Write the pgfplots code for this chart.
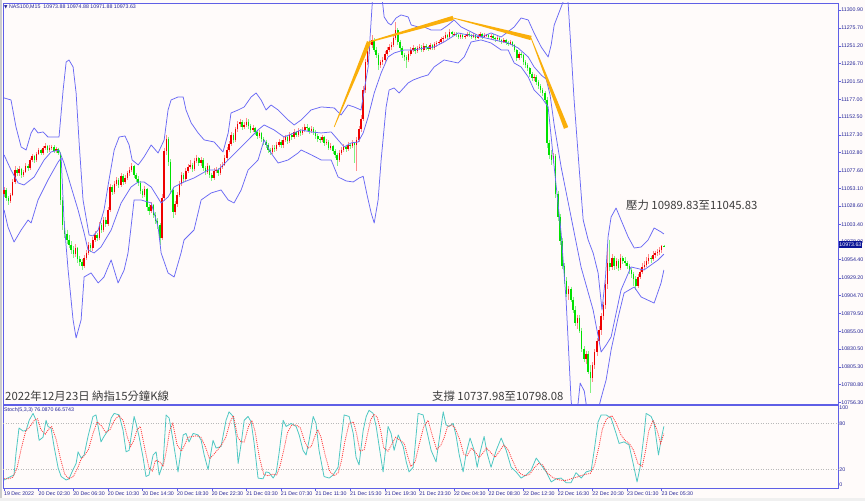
\documentclass[border=0pt]{standalone}
\usepackage{fontspec}
\setmainfont{Liberation Sans}
\newfontfamily\cjk{Noto Sans CJK TC}
\newfontfamily\dejavu{DejaVu Sans}
\usepackage{pgfplots}
\pgfplotsset{compat=1.18}
\usepackage{pgfplotstable}
\usetikzlibrary{calc}

\definecolor{bg}{RGB}{255,251,250}
\definecolor{frame}{RGB}{95,95,230}
\definecolor{tickc}{RGB}{35,35,150}
\definecolor{bandc}{RGB}{105,105,245}
\definecolor{upc}{RGB}{238,0,0}
\definecolor{dnc}{RGB}{0,225,0}
\definecolor{upw}{RGB}{255,140,140}
\definecolor{dnw}{RGB}{130,240,130}
\definecolor{stochc}{RGB}{80,200,195}
\definecolor{sigc}{RGB}{255,60,60}
\definecolor{orangec}{RGB}{250,175,10}
\definecolor{txt}{RGB}{60,60,60}
\definecolor{navy}{RGB}{10,20,150}

\newcommand\ticks{\fontsize{5.3}{6}\selectfont}
\newcommand\brush[4]{%
  \fill[orangec] ($(#1)!#3!90:(#2)$) -- ($(#2)!#4!-90:(#1)$) --
    ($(#2)!#4!90:(#1)$) -- ($(#1)!#3!-90:(#2)$) -- cycle;}

% NAS100 M15 candles: bar index, open, high, low, close
\pgfplotstableread{
i o h l c
0 11046 11055 11041 11051
1 11051 11054 11036 11040
2 11040 11043 11030 11036
3 11036 11047 11033 11044
4 11044 11066 11042 11062
5 11062 11084 11060 11079
6 11079 11082 11070 11074
7 11074 11084 11071 11080
8 11080 11082 11068 11072
9 11072 11079 11069 11076
10 11076 11088 11074 11085
11 11085 11087 11078 11081
12 11081 11096 11079 11093
13 11093 11101 11090 11098
14 11098 11100 11089 11092
15 11092 11104 11090 11101
16 11101 11110 11099 11106
17 11106 11108 11099 11102
18 11102 11112 11100 11109
19 11109 11116 11107 11112
20 11112 11114 11103 11106
21 11106 11113 11104 11110
22 11110 11114 11107 11111
23 11111 11113 11102 11105
24 11105 11111 11103 11108
25 11108 11110 11099 11102
26 11102 11104 11030 11037
27 11037 11041 10996 11002
28 11002 11008 10985 10990
29 10990 10996 10976 10982
30 10982 10988 10970 10975
31 10975 10980 10962 10968
32 10968 10973 10956 10962
33 10962 10976 10958 10970
34 10970 10972 10950 10955
35 10955 10960 10945 10951
36 10951 10955 10940 10946
37 10946 10961 10943 10957
38 10957 10968 10954 10964
39 10964 10979 10961 10975
40 10975 10977 10965 10970
41 10970 10986 10967 10982
42 10982 10994 10979 10989
43 10989 10992 10980 10984
44 10984 11006 10981 11002
45 11002 11005 10992 10996
46 10996 11014 10993 11010
47 11010 11013 11000 11004
48 11004 11027 11001 11023
49 11023 11060 11020 11055
50 11055 11058 11044 11048
51 11048 11064 11045 11060
52 11060 11069 11056 11065
53 11065 11068 11054 11058
54 11058 11074 11055 11070
55 11070 11073 11058 11062
56 11062 11072 11059 11068
57 11068 11078 11065 11074
58 11074 11083 11071 11079
59 11079 11088 11076 11084
60 11084 11086 11068 11072
61 11072 11075 11062 11066
62 11066 11070 11057 11061
63 11061 11064 11046 11050
64 11050 11053 11040 11044
65 11044 11057 11041 11052
66 11052 11054 11022 11027
67 11027 11031 11017 11022
68 11022 11034 11019 11030
69 11030 11032 11012 11016
70 11016 11020 11004 11008
71 11008 11012 10997 11002
72 11002 11005 10975 10985
73 10985 11045 10982 11040
74 11040 11110 11036 11105
75 11105 11128 11100 11122
76 11122 11125 11085 11090
77 11090 11094 11045 11051
78 11051 11055 11012 11020
79 11020 11036 11016 11032
80 11032 11048 11028 11044
81 11044 11064 11041 11060
82 11060 11076 11057 11072
83 11072 11075 11062 11066
84 11066 11082 11063 11078
85 11078 11087 11075 11083
86 11083 11092 11080 11086
87 11086 11089 11076 11080
88 11080 11096 11077 11091
89 11091 11100 11088 11095
90 11095 11097 11084 11088
91 11088 11097 11085 11093
92 11093 11095 11078 11082
93 11082 11085 11072 11076
94 11076 11088 11073 11084
95 11084 11086 11068 11072
96 11072 11075 11064 11068
97 11068 11081 11065 11077
98 11077 11083 11074 11079
99 11079 11081 11070 11074
100 11074 11087 11072 11083
101 11083 11090 11080 11086
102 11086 11100 11084 11096
103 11096 11111 11093 11107
104 11107 11119 11104 11115
105 11115 11131 11112 11127
106 11127 11130 11116 11120
107 11120 11139 11117 11135
108 11135 11147 11132 11142
109 11142 11150 11139 11145
110 11145 11148 11134 11138
111 11138 11145 11135 11141
112 11141 11151 11138 11146
113 11146 11149 11136 11140
114 11140 11143 11130 11134
115 11134 11141 11131 11137
116 11137 11139 11127 11131
117 11131 11134 11122 11126
118 11126 11134 11123 11130
119 11130 11132 11118 11122
120 11122 11125 11114 11118
121 11118 11121 11109 11113
122 11113 11116 11103 11107
123 11107 11110 11100 11104
124 11104 11114 11101 11110
125 11110 11113 11104 11108
126 11108 11118 11105 11114
127 11114 11122 11111 11118
128 11118 11120 11109 11113
129 11113 11124 11110 11120
130 11120 11128 11117 11124
131 11124 11126 11115 11119
132 11119 11131 11116 11127
133 11127 11130 11121 11125
134 11125 11135 11122 11131
135 11131 11133 11124 11128
136 11128 11137 11125 11133
137 11133 11135 11126 11130
138 11130 11138 11127 11134
139 11134 11143 11131 11139
140 11139 11142 11133 11137
141 11137 11139 11129 11133
142 11133 11140 11130 11136
143 11136 11138 11128 11132
144 11132 11134 11122 11126
145 11126 11129 11118 11122
146 11122 11125 11116 11120
147 11120 11128 11117 11124
148 11124 11126 11112 11116
149 11116 11122 11113 11118
150 11118 11120 11106 11110
151 11110 11116 11107 11112
152 11112 11114 11101 11105
153 11105 11108 11096 11100
154 11100 11103 11084 11093
155 11093 11106 11090 11102
156 11102 11111 11099 11107
157 11107 11115 11104 11111
158 11111 11114 11104 11108
159 11108 11118 11105 11114
160 11114 11116 11108 11112
161 11112 11120 11109 11116
162 11116 11118 11088 11113
163 11113 11124 11078 11120
164 11120 11140 11117 11135
165 11135 11155 11132 11150
166 11150 11195 11147 11190
167 11190 11233 11186 11228
168 11228 11250 11224 11244
169 11244 11258 11240 11252
170 11252 11266 11248 11259
171 11259 11262 11242 11246
172 11246 11250 11234 11238
173 11238 11241 11218 11224
174 11224 11232 11220 11228
175 11228 11236 11225 11231
176 11231 11244 11228 11240
177 11240 11249 11237 11245
178 11245 11254 11242 11250
179 11250 11256 11246 11252
180 11252 11266 11249 11262
181 11262 11284 11259 11273
182 11273 11276 11252 11256
183 11256 11259 11244 11248
184 11248 11251 11234 11238
185 11238 11241 11230 11235
186 11235 11238 11220 11231
187 11231 11244 11228 11240
188 11240 11249 11237 11245
189 11245 11252 11242 11248
190 11248 11250 11240 11244
191 11244 11251 11241 11248
192 11248 11254 11245 11250
193 11250 11252 11243 11246
194 11246 11255 11243 11251
195 11251 11253 11246 11249
196 11249 11251 11244 11247
197 11247 11255 11245 11252
198 11252 11254 11245 11248
199 11248 11256 11246 11253
200 11253 11258 11250 11255
201 11255 11259 11252 11256
202 11256 11263 11253 11260
203 11260 11265 11257 11262
204 11262 11270 11260 11266
205 11266 11268 11261 11264
206 11264 11274 11262 11270
207 11270 11272 11264 11267
208 11267 11271 11265 11268
209 11268 11270 11263 11266
210 11266 11268 11260 11263
211 11263 11269 11261 11266
212 11266 11268 11260 11263
213 11263 11268 11261 11265
214 11265 11271 11263 11268
215 11268 11270 11263 11266
216 11266 11268 11261 11264
217 11264 11269 11262 11266
218 11266 11268 11259 11262
219 11262 11268 11260 11265
220 11265 11270 11263 11267
221 11267 11269 11261 11264
222 11264 11269 11262 11266
223 11266 11268 11263 11266.5
224 11266 11268 11260 11263
225 11263 11268 11261 11265
226 11265 11267 11259 11262
227 11262 11264 11257 11260
228 11260 11265 11258 11262
229 11262 11264 11256 11259
230 11259 11261 11254 11257
231 11257 11262 11255 11259
232 11259 11261 11252 11255
233 11255 11258 11251 11254
234 11254 11259 11252 11256
235 11256 11258 11249 11252
236 11252 11254 11242 11245
237 11245 11247 11230 11234
238 11234 11243 11232 11240
239 11240 11242 11234 11238
240 11238 11240 11225 11228
241 11228 11231 11220 11224
242 11224 11227 11216 11220
243 11220 11222 11208 11212
244 11212 11215 11202 11206
245 11206 11212 11203 11208
246 11208 11210 11197 11201
247 11201 11204 11191 11195
248 11195 11198 11186 11190
249 11190 11193 11181 11185
250 11185 11188 11172 11176
251 11176 11180 11110 11116
252 11116 11120 11094 11100
253 11100 11106 11086 11092
254 11092 11102 11088 11098
255 11098 11101 11040 11046
256 11046 11050 11008 11013
257 11013 11018 10975 10980
258 10980 10985 10942 10946
259 10946 10950 10920 10925
260 10925 10930 10902 10906
261 10906 10918 10898 10914
262 10914 10917 10895 10899
263 10899 10903 10880 10884
264 10884 10890 10862 10866
265 10866 10878 10858 10874
266 10874 10877 10852 10856
267 10856 10860 10826 10830
268 10830 10834 10812 10817
269 10817 10828 10810 10824
270 10824 10827 10795 10799
271 10799 10808 10769 10790
272 10790 10812 10784 10808
273 10808 10830 10803 10826
274 10826 10846 10820 10842
275 10842 10862 10838 10857
276 10857 10880 10850 10876
277 10876 10896 10870 10892
278 10892 10926 10886 10920
279 10920 10975 10914 10950
280 10950 10982 10938 10944
281 10944 10962 10940 10957
282 10957 10960 10940 10945
283 10945 10956 10941 10952
284 10952 10955 10938 10943
285 10943 10962 10940 10957
286 10957 10960 10948 10953
287 10953 10958 10946 10950
288 10950 10953 10941 10946
289 10946 10949 10935 10940
290 10940 10943 10929 10934
291 10934 10937 10918 10928
292 10928 10931 10912 10918
293 10918 10935 10915 10930
294 10930 10942 10927 10937
295 10937 10950 10934 10944
296 10944 10952 10941 10947
297 10947 10958 10944 10952
298 10952 10962 10949 10957
299 10957 10960 10950 10955
300 10955 10966 10952 10961
301 10961 10967 10957 10963
302 10963 10969 10959 10965
303 10965 10972 10961 10968
304 10968 10975 10964 10973.88
305 10973.88 10974.88 10971.88 10973.63
}\candles

\begin{document}
\begin{tikzpicture}[x=1bp,y=1bp]
\fill[bg] (0,0) rectangle (865,501);
\fill[gray!40] (0,0) rectangle (1.6,501);
\fill[gray!12] (0,0) rectangle (865,3);

% ---------- price panel ----------
\begin{axis}[at={(3bp,97bp)}, anchor=south west, scale only axis,
  clip bounding box=upper bound,
  width=835bp, height=401bp,
  xmin=-0.5, xmax=385.5, ymin=10754.0, ymax=11310.6,
  scaled y ticks=false,
  axis line style={draw=frame, line width=0.8bp},
  xtick=\empty,
  ytick={11300.90,11275.70,11251.20,11226.70,11201.50,11177.00,11152.50,11127.30,11102.80,11077.60,11053.10,11028.60,11003.40,10978.90,10954.40,10929.20,10904.70,10879.50,10855.00,10830.50,10805.30,10780.80,10756.30},
  yticklabels={11300.90,11275.70,11251.20,11226.70,11201.50,11177.00,11152.50,11127.30,11102.80,11077.60,11053.10,11028.60,11003.40,10978.90,10954.40,10929.20,10904.70,10879.50,10855.00,10830.50,10805.30,10780.80,10756.30},
  ytick pos=right, yticklabel pos=right, tick align=outside,
  major tick length=2.5bp, ytick style={draw=frame, line width=0.5bp},
  yticklabel style={font=\ticks, text=tickc, inner sep=0.6bp},
  band/.style={draw=bandc, line width=0.75bp, mark=none, line join=round, forget plot},
  candle/.style={draw=none, mark=none, forget plot,
    error bars/y dir=minus, error bars/y explicit, error bars/error mark=none},
]
% wicks
\addplot[candle, restrict expr to domain={\thisrow{c}-\thisrow{o}}{0:5000},
  error bars/error bar style={draw=upw, line width=0.6bp, solid}]
  table[x=i, y=h, y error minus expr=\thisrow{h}-\thisrow{l}] {\candles};
\addplot[candle, restrict expr to domain={\thisrow{c}-\thisrow{o}}{-5000:-0.001},
  error bars/error bar style={draw=dnw, line width=0.6bp, solid}]
  table[x=i, y=h, y error minus expr=\thisrow{h}-\thisrow{l}] {\candles};
% bodies
\addplot[candle, restrict expr to domain={\thisrow{c}-\thisrow{o}}{0:5000},
  error bars/error bar style={draw=upc, line width=1.5bp, solid}]
  table[x=i, y=c, y error minus expr=\thisrow{c}-\thisrow{o}] {\candles};
\addplot[candle, restrict expr to domain={\thisrow{c}-\thisrow{o}}{-5000:-0.001},
  error bars/error bar style={draw=dnc, line width=1.5bp, solid}]
  table[x=i, y=o, y error minus expr=\thisrow{o}-\thisrow{c}] {\candles};

% Bollinger bands, upper
\addplot[band] coordinates {(0,11178.8) (3.2,11176) (5.5,11138.5) (7.9,11110.7) (10.2,11106.6) (12.5,11130.2) (13.9,11137.1) (15.7,11130.2) (18,11131.6) (20.3,11124.6) (25.4,11124.6) (27.3,11189.9) (28.7,11228.7) (30,11231.5) (31.9,11221.8) (33.3,11185.7) (34.7,11116.3) (36.5,11037.2) (39.3,10988.6) (41.1,10987.2) (43.5,10995.5) (46.2,11023.3) (48.5,11064.9) (50.9,11106.6) (53.2,11124.6) (55.9,11126) (57.8,11113.5) (59.2,11092.7) (62,11085.8) (64.7,11096.9) (68,11113.5) (71.2,11102.4) (74,11120.5) (75.8,11162.1) (77.2,11176) (80.4,11180.1) (82.8,11180.1) (84.1,11162.1) (86.5,11144.1) (89.7,11130.2) (92.5,11120.5) (97.1,11117.7) (101.2,11103.8) (103.6,11130.2) (104.9,11157.9) (108.2,11162.1) (111,11166.3) (114.2,11180.1) (116.5,11185.7) (118.8,11176) (121.1,11162.1) (123.4,11169) (126.7,11162.1) (131.3,11148.2) (134.1,11141.3) (137.3,11148.2) (141.9,11162.1) (146.6,11166.3) (152.6,11164.9) (155.8,11155.2) (159,11169) (161.8,11166.3) (165,11162.1) (166.9,11196.8) (168.3,11221.8) (169.7,11287) (170.6,11328.7) (172.4,11380) (174.3,11328.7) (175.7,11291.2) (177.5,11282.9) (178.9,11280.1) (181.2,11289.8) (183.5,11294) (186.8,11291.2) (188.2,11280.1) (191.4,11277.3) (194.2,11277.3) (197.4,11273.1) (202,11273.1) (205.3,11280.1) (208,11287) (211.3,11277.3) (215.9,11270.4) (220.5,11263.4) (225.1,11269) (229.8,11263.4) (235.8,11277.3) (239,11289.8) (242.3,11287) (245,11269) (248.3,11249.5) (251.5,11235.7) (252.9,11252.3) (254.3,11280) (256.1,11294) (258.4,11312) (259.8,11370) (260.7,11312) (262.1,11245.4) (263.5,11176) (265.8,11083) (267.7,11009.4) (270,10981.7) (272.3,10963.6) (274.6,10935.9) (276.4,10884.5) (278,10930) (279.2,10985.8) (280.6,11013.5) (282.9,11026) (285.2,11009.4) (288.5,10985.8) (291.3,10970.5) (294.5,10971.9) (297.7,10981.7) (300.5,10998.3) (303.7,10992.8) (305,10990)};
% middle
\addplot[band] coordinates {(0,11099.7) (3.2,11078.8) (6.5,11060.8) (9.2,11058) (13.9,11069.1) (18.5,11092.7) (21.7,11103.8) (25.4,11106.6) (27.7,11088.5) (31,11055.2) (34.2,11023.3) (37,10991.4) (38.8,10967.8) (41.6,10963.6) (44.8,10971.9) (49.5,10995.5) (54.1,11033) (58.7,11055.2) (62,11062.2) (64.7,11062.2) (68,11055.2) (72.6,11033) (75.8,11041.3) (78.6,11055.2) (83.2,11062.2) (87.8,11067.7) (94.3,11078.8) (98.9,11078.8) (103.6,11092.7) (108.2,11106.6) (112.8,11120.5) (117.4,11134.4) (120.2,11141.3) (124.8,11134.4) (129.4,11124.6) (134.1,11130.2) (137.3,11134.4) (141.9,11131.6) (146.6,11130.2) (151.2,11131.6) (154.4,11120.5) (157.2,11110.7) (160.4,11116.3) (163.7,11117.7) (166,11130.2) (168.3,11152.4) (171.1,11185.7) (174.3,11213.5) (177.5,11235.7) (180.3,11241.2) (184.9,11245.4) (189.6,11245.4) (194.2,11248.2) (198.8,11249.5) (203.4,11256.5) (209.9,11269) (214.5,11266.2) (220.5,11263.4) (226.5,11259.3) (233,11255.1) (237.6,11248.2) (242.3,11235.7) (245,11221.8) (248.5,11210) (250.6,11205) (252.4,11182.9) (254.3,11141.3) (257.5,11083) (262.1,11013.6) (266.7,10944.2) (272.3,10884.4) (276,10826.2) (278.3,10835.9) (280.6,10847) (285.2,10912.3) (289.8,10944.2) (295.8,10940) (302.3,10953.9) (305,10962)};
% lower
\addplot[band] coordinates {(0,11023.3) (1.8,10999.6) (4.6,10978.8) (7.9,10995.5) (11.1,11009.4) (12.5,11005.3) (15.7,11037.2) (20.3,11065) (25,11090) (26.4,11095.5) (27.7,11009.4) (29.6,10940) (31.9,10870.6) (33.3,10845.7) (35.6,10870.6) (37,10930.3) (40.2,10935.9) (43.5,10922) (46.2,10930.3) (48.1,10944.2) (49.5,10953.9) (52.7,10922) (55.5,10940) (57.3,10963.6) (58.7,10999.7) (60.1,11037.2) (63.3,11037.2) (68,11033) (71.2,10999.7) (72.6,10963.6) (75.8,10935.9) (78.6,10930.3) (81.8,10963.6) (83.2,10981.7) (87.8,10995.5) (91.1,11037.2) (95.7,11046.9) (100.3,11051.1) (103.6,11037.2) (106.3,11033) (109.6,11051.1) (112.8,11078.8) (117.4,11092.7) (120.2,11120.5) (123.4,11102.4) (126.7,11088.5) (131.3,11092.7) (135.9,11102.4) (137.3,11106.6) (141.9,11100) (146.6,11092.7) (151.2,11092.7) (154.4,11069.1) (158.1,11063.6) (161.4,11062.2) (164.1,11067.7) (166,11070) (167.8,11044.1) (169.7,11019) (171.1,11005.2) (172.9,11037.2) (174.3,11092.7) (176.6,11166.2) (178,11189.9) (180.3,11192.6) (182.6,11185.7) (186.8,11199.6) (189.1,11203.7) (192.8,11207.9) (196,11210.7) (198.8,11221.8) (203.4,11231.5) (209.9,11227.3) (212.7,11235.7) (215.9,11256.5) (220.5,11259.3) (225.1,11255.1) (229.8,11245.4) (233,11245.4) (235.8,11227.3) (239,11221.8) (242.3,11207.9) (245,11189.9) (248.3,11180.1) (251.5,11166.3) (254.3,11083) (257.5,10991.4) (259.8,10898.4) (262.1,10759.6) (263.5,10720) (265,10745) (266.3,10783) (268.2,10772) (270,10735) (273.7,10735) (276,10762.4) (278.3,10787.3) (280.6,10829) (283.9,10874.8) (286.6,10908.1) (291.3,10916.4) (294.5,10902.5) (300.5,10894.1) (303.7,10922) (305,10940)};

\coordinate (A) at (axis cs:152.6,11138.5);
\coordinate (B) at (axis cs:168.7,11256.5);
\coordinate (C) at (axis cs:207.6,11289.8);
\coordinate (D) at (axis cs:243.6,11262);
\coordinate (E) at (axis cs:259.8,11137.1);
\end{axis}

% ---------- stochastic panel ----------
\begin{axis}[at={(3bp,13bp)}, anchor=south west, scale only axis,
  clip bounding box=upper bound,
  width=835bp, height=83bp,
  xmin=-0.5, xmax=385.5, ymin=-3.9, ymax=103.9,
  axis line style={draw=frame, line width=0.8bp},
  xtick={0,16,...,304},
  xticklabels={19 Dec 2022,20 Dec 02:30,20 Dec 06:30,20 Dec 10:30,20 Dec 14:30,20 Dec 18:30,20 Dec 22:30,21 Dec 03:30,21 Dec 07:30,21 Dec 11:30,21 Dec 15:30,21 Dec 19:30,21 Dec 23:30,22 Dec 04:30,22 Dec 08:30,22 Dec 12:30,22 Dec 16:30,22 Dec 20:30,23 Dec 01:30,23 Dec 05:30},
  xtick pos=bottom, tick align=outside, major tick length=3bp,
  xtick style={draw=frame, line width=0.5bp},
  xticklabel style={font=\ticks, text=tickc, anchor=north west, inner sep=0.6bp, xshift=-0.8bp, yshift=-0.3bp},
  ytick={0,100}, yticklabels={0,100},
  extra y ticks={20,80}, extra y tick labels={20,80},
  extra y tick style={grid=major},
  major grid style={draw=gray!55, dash pattern=on 1bp off 1.5bp, line width=0.5bp},
  ytick pos=right, yticklabel pos=right,
  ytick style={draw=none},
  yticklabel style={font=\ticks, text=tickc, inner sep=0.6bp, xshift=-2.5bp},
]
\addplot[draw=stochc, line width=0.8bp, mark=none, line join=round] coordinates {(0,6.5) (2.3,10) (4.6,13) (5.5,41) (6.9,74) (8.8,70) (10.2,71) (11.6,84) (13.4,93) (14.8,84) (16.2,58) (18,62) (19.4,84) (20.3,76) (21.7,74) (23.1,50) (25,22) (26.4,11) (28.7,6.5) (30,8) (31.9,20) (33.3,28) (34.2,43) (35.6,35) (37,39) (38.8,63) (41.1,89) (42.5,91) (44.8,56) (46.2,63) (48.1,71) (49.5,87) (50.9,93) (53.2,91) (55,71) (56.4,43) (57.8,45) (60.1,89) (61,80) (62.4,63) (64.3,35) (65.6,11) (67,13) (68.9,39) (70.3,43) (71.7,13) (73.5,28) (74.9,91) (76.3,87) (78.1,58) (80.4,17) (82.8,65) (84.1,67) (85.5,56) (87.4,67) (89.7,65) (91.1,58) (92.5,39) (94.3,20) (96.6,58) (98,48) (100.3,50) (102.6,84) (104,95) (105.9,89) (107.3,63) (108.2,28) (109.6,54) (111,84) (112.8,89) (114.2,82) (115.6,54) (117.4,9) (119.7,8) (121.1,17) (122.5,16) (124.4,9) (125.8,16) (127.1,41) (129,84) (130.4,76) (132.7,80) (135,76) (136.4,65) (138.2,45) (139.6,39) (141,58) (142.9,89) (144.2,80) (145.6,45) (147.9,11) (150.3,9) (152.1,13) (154.4,23) (155.8,58) (157.2,91) (159.5,89) (161.4,67) (162.7,36) (164.1,26) (166,71) (167.4,89) (168.7,97) (170.6,93) (172,76) (173.4,50) (175.2,17) (177.5,76) (178.9,67) (180.3,45) (182.2,65) (184.5,50) (185.9,30) (187.2,17) (189.1,23) (191.4,93) (193.7,91) (196,63) (197.4,45) (199.7,30) (201.1,58) (203,95) (204.3,78) (205.7,76) (207.6,80) (209,63) (210.4,39) (212.2,17) (213.6,41) (215.4,61) (217.3,45) (218.7,23) (220.1,43) (221.9,63) (223.3,41) (225.1,23) (227.5,45) (229.8,61) (232.1,45) (234.4,23) (236.7,17) (239,9) (241.3,13) (243.6,19) (246,35) (248.3,26) (250.6,17) (252.9,4) (255.2,8) (257.5,9) (259.8,3) (262.1,3) (264.4,16) (266.8,9) (269.1,17) (271.4,19) (272.8,45) (274.6,82) (276,91) (278.3,91) (280.6,87) (282.9,67) (284.3,54) (286.6,56) (288.9,52) (290.8,28) (292.6,4) (294,23) (295.9,67) (296.8,93) (299.1,89) (300.5,80) (302.5,39) (304,63) (305,76.087)};
\addplot[draw=sigc, line width=0.8bp, mark=none, dash pattern=on 1bp off 1bp] coordinates {(0,8) (2,8) (4,10) (6,22) (8,48) (10,70) (12,76) (14,84) (15.5,86) (17,72) (19,66) (20.5,72) (22,76) (24,60) (26,35) (28,14) (30,8) (32,11) (34,22) (35.5,33) (37,38) (39,46) (41,66) (43,82) (45,77) (47,68) (49,72) (51,84) (53,90) (55,84) (57,62) (58.5,50) (60,58) (61.5,72) (63,76) (65,48) (67,22) (68.5,18) (70,32) (72,30) (73.5,24) (75,44) (76.5,70) (78,80) (80,52) (82,44) (83.5,52) (85,62) (87,63) (89,64) (91,62) (93,50) (95,34) (97,40) (98.5,45) (100.5,52) (102.5,62) (104.5,82) (106,90) (108,62) (109.5,56) (111,56) (113,76) (114.5,84) (116,70) (118,36) (120,14) (122,12) (124,14) (126,13) (127.5,24) (129.5,48) (131,68) (133,78) (135,78) (137,74) (139,56) (140.5,48) (142,50) (143.5,62) (145,72) (146.5,62) (148.5,38) (150.5,18) (152.5,12) (154.5,16) (156,32) (157.5,56) (159.5,80) (161.5,82) (163,66) (164.5,44) (166.5,46) (168,66) (169.5,85) (171,92) (172.5,88) (174,72) (175.5,48) (177.5,44) (179.5,54) (181,62) (183,58) (185,54) (186.5,38) (188,24) (190,30) (192,54) (194,76) (196,84) (198,64) (200,46) (202,52) (203.5,62) (205,76) (207,78) (208.5,74) (210.5,60) (212.5,40) (214,38) (216,48) (218,42) (219.5,36) (221,40) (223,48) (225,42) (227,36) (229,44) (231,52) (233,46) (235,32) (237,20) (239,14) (241,12) (243,14) (245,22) (247,28) (249,26) (251,16) (253.5,10) (256,7) (258,6) (260,6) (262,8) (264.5,10) (266.5,12) (269,14) (271,15) (273,26) (275,50) (276.5,72) (278.5,86) (281,90) (283,80) (285,66) (287,58) (289,54) (291,45) (293,28) (295,24) (296.5,44) (298,70) (300,84) (302,70) (303.5,54) (305,66.574)};
\end{axis}

% trend strokes
\brush{A}{B}{0.35bp}{2.2bp}
\brush{B}{C}{0.6bp}{2.2bp}
\brush{C}{D}{0.35bp}{2.2bp}
\brush{D}{E}{0.35bp}{2.3bp}

% labels
\node[anchor=west, font=\ticks, text=tickc, inner sep=0pt] at (4,494.3) {{\dejavu\fontsize{4.5}{5}\selectfont ▼}\ NAS100,M15\ \ 10973.88 10974.88 10971.88 10973.63};
\node[anchor=west, font=\ticks, text=tickc, inner sep=0pt] at (4,90.8) {Stoch(5,3,3) 76.0870 66.5743};
\node[anchor=west, fill=navy, text=white, font=\ticks, inner xsep=0.8bp, inner ysep=1.2bp] at (838.4,256.5) {10973.63};
\node[anchor=west, font=\cjk\fontsize{11.4}{13}\selectfont, text=txt, inner sep=0pt] at (626,296) {壓力 10989.83至11045.83};
\node[anchor=west, font=\cjk\fontsize{11.4}{13}\selectfont, text=txt, inner sep=0pt] at (432,105) {支撐 10737.98至10798.08};
\node[anchor=west, font=\cjk\fontsize{11.4}{13}\selectfont, text=txt, inner sep=0pt] at (5,105) {2022年12月23日 納指15分鐘K線};

\pgfresetboundingbox
\path[use as bounding box] (0,0) rectangle (865,501);
\end{tikzpicture}
\end{document}
